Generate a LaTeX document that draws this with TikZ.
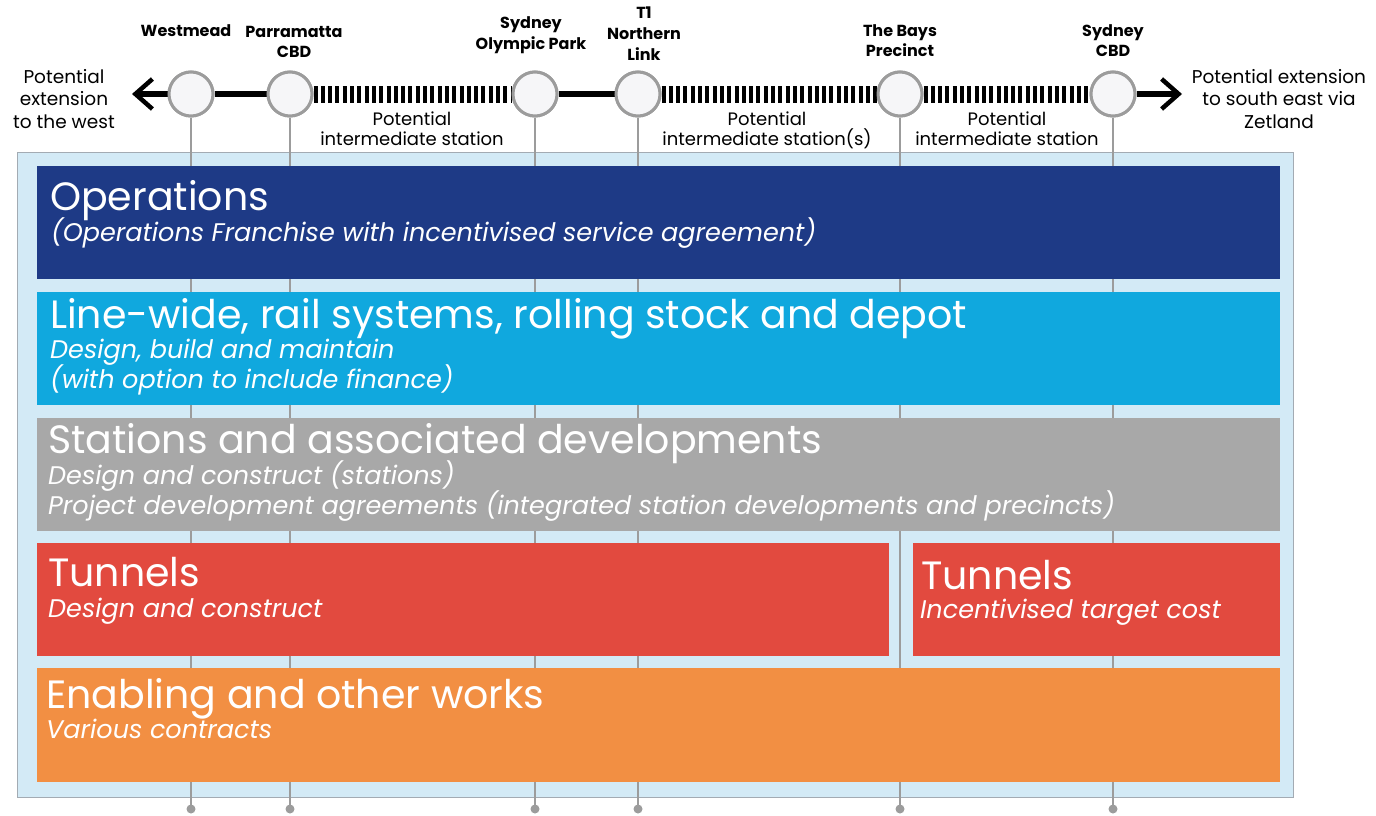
\documentclass[tikz,border=0pt]{standalone}
\usepackage{fontspec}
\setmainfont{Poppins}
\usetikzlibrary{arrows.meta}
\definecolor{navy}{HTML}{1E3A86}
\definecolor{cyanb}{HTML}{10A8DE}
\definecolor{grayb}{HTML}{A8A8A8}
\definecolor{redb}{HTML}{E24A3F}
\definecolor{orangeb}{HTML}{F28F43}
\definecolor{panel}{HTML}{D3EAF6}
\definecolor{panelline}{HTML}{A3ABB3}
\definecolor{stgray}{HTML}{9C9C9C}
\definecolor{stfill}{HTML}{F6F6F8}
\begin{document}
\begin{tikzpicture}[x=1pt,y=-1pt,
  station/.style={circle,draw=stgray,line width=3pt,fill=stfill,minimum size=44pt,inner sep=0pt},
  stlabel/.style={font=\fontsize{16}{20.5}\selectfont\bfseries,align=center,anchor=base,inner sep=0pt},
  extlabel/.style={font=\fontsize{18.5}{22.5}\selectfont,align=center,anchor=base,inner sep=0pt},
  midlabel/.style={font=\fontsize{18}{19.5}\selectfont,align=center,anchor=base,inner sep=0pt},
  solidline/.style={line width=5.5pt,black},
  barline/.style={line width=17pt,black,dash pattern=on 4pt off 3.3pt},
  vline/.style={draw=stgray,line width=1.5pt},
  enddot/.style={circle,fill=stgray,inner sep=0pt,minimum size=9pt},
  box/.style={anchor=north west,inner sep=0pt,outer sep=0pt},
  title/.style={anchor=base west,inner sep=0pt,text=white,font=\fontsize{39.5}{44}\selectfont\mdseries},
  sub/.style={anchor=base west,inner sep=0pt,text=white,font=\fontsize{25.5}{30}\selectfont\itshape},
  ext/.style={line width=5.5pt,-{Straight Barb[length=17pt,width=30pt,line width=4.5pt]}}
]
\useasboundingbox (0,0) rectangle (1376,816);
% panel
\node[box,fill=panel,draw=panelline,line width=1pt,minimum width=1276pt,minimum height=645pt] (panel) at (17,152) {};
% stations
\node[station] (wm) at (191,94) {};
\node[station] (pc) at (290,94) {};
\node[station] (sop) at (535,94) {};
\node[station] (t1) at (638,94) {};
\node[station] (bays) at (900,94) {};
\node[station] (cbd) at (1113,94) {};
% bottom ends
\foreach \s/\x in {wm/191,pc/290,sop/535,t1/638,bays/900,cbd/1113}{
  \coordinate (\s-end) at (\x,809);
  \draw[vline] (\s.south) -- (\s-end);
  \node[enddot] at (\s-end) {};
}
% boxes
\node[box,fill=navy,minimum width=1243pt,minimum height=113pt] (ops) at (37,166) {};
\node[box,fill=cyanb,minimum width=1243pt,minimum height=113pt] (line) at (37,292) {};
\node[box,fill=grayb,minimum width=1243pt,minimum height=113pt] (stat) at (37,418) {};
\node[box,fill=redb,minimum width=852pt,minimum height=113pt] (tun1) at (37,543) {};
\node[box,fill=redb,minimum width=367pt,minimum height=113pt] (tun2) at (913,543) {};
\node[box,fill=orangeb,minimum width=1243pt,minimum height=114pt] (enab) at (37,668) {};
% box texts
\node[title] (opsT) at (50,210) {Operations};
\node[sub] (opsS) at (51,241) {(Operations Franchise with incentivised service agreement)};
\node[title] (lineT) at (50,328) {Line-wide, rail systems, rolling stock and depot};
\node[sub] (lineS1) at (50,358) {Design, build and maintain};
\node[sub] (lineS2) at (50,388) {(with option to include finance)};
\node[title] (statT) at (48,453) {Stations and associated developments};
\node[sub] (statS1) at (48,484) {Design and construct (stations)};
\node[sub] (statS2) at (48,514) {Project development agreements (integrated station developments and precincts)};
\node[title] (tun1T) at (48,586) {Tunnels};
\node[sub] (tun1S) at (48,617) {Design and construct};
\node[title] (tun2T) at (921,589) {Tunnels};
\node[sub] (tun2S) at (920,618) {Incentivised target cost};
\node[title] (enabT) at (46,708) {Enabling and other works};
\node[sub] (enabS) at (46,738) {Various contracts};
% track
\draw[solidline] (wm.east) -- (pc.west);
\draw[solidline] (sop.east) -- (t1.west);
\draw[barline] (pc.east) -- (sop.west);
\draw[barline] (t1.east) -- (bays.west);
\draw[barline] (bays.east) -- (cbd.west);
\coordinate (westtip) at (132,94);
\coordinate (easttip) at (1182,94);
\draw[ext] (wm.west) -- (westtip);
\draw[ext] (cbd.east) -- (easttip);
% redraw circles on top of track
\foreach \s in {wm,pc,sop,t1,bays,cbd}{
  \draw[stgray,line width=3pt,fill=stfill] (\s.center) circle (22pt);
}
% station labels (anchor = baseline of last line)
\node[stlabel] (lwm) at (186,37) {Westmead};
\node[stlabel] (lpc) at (294,58) {Parramatta\\CBD};
\node[stlabel] (lsop) at (531,49) {Sydney\\Olympic Park};
\node[stlabel] (lt1) at (644,60) {T1\\Northern\\Link};
\node[stlabel] (lbays) at (900,57) {The Bays\\Precinct};
\node[stlabel] (lcbd) at (1113,57) {Sydney\\CBD};
% extension labels
\node[extlabel] (extw) at (64,128) {Potential\\extension\\to the west};
\node[extlabel] (exte) at (1279,128) {Potential extension\\to south east via\\Zetland};
% intermediate
\node[midlabel] (m1) at (412,145) {Potential\\intermediate station};
\node[midlabel] (m2) at (767,145) {Potential\\intermediate station(s)};
\node[midlabel] (m3) at (1007,145) {Potential\\intermediate station};
\end{tikzpicture}
\end{document}
